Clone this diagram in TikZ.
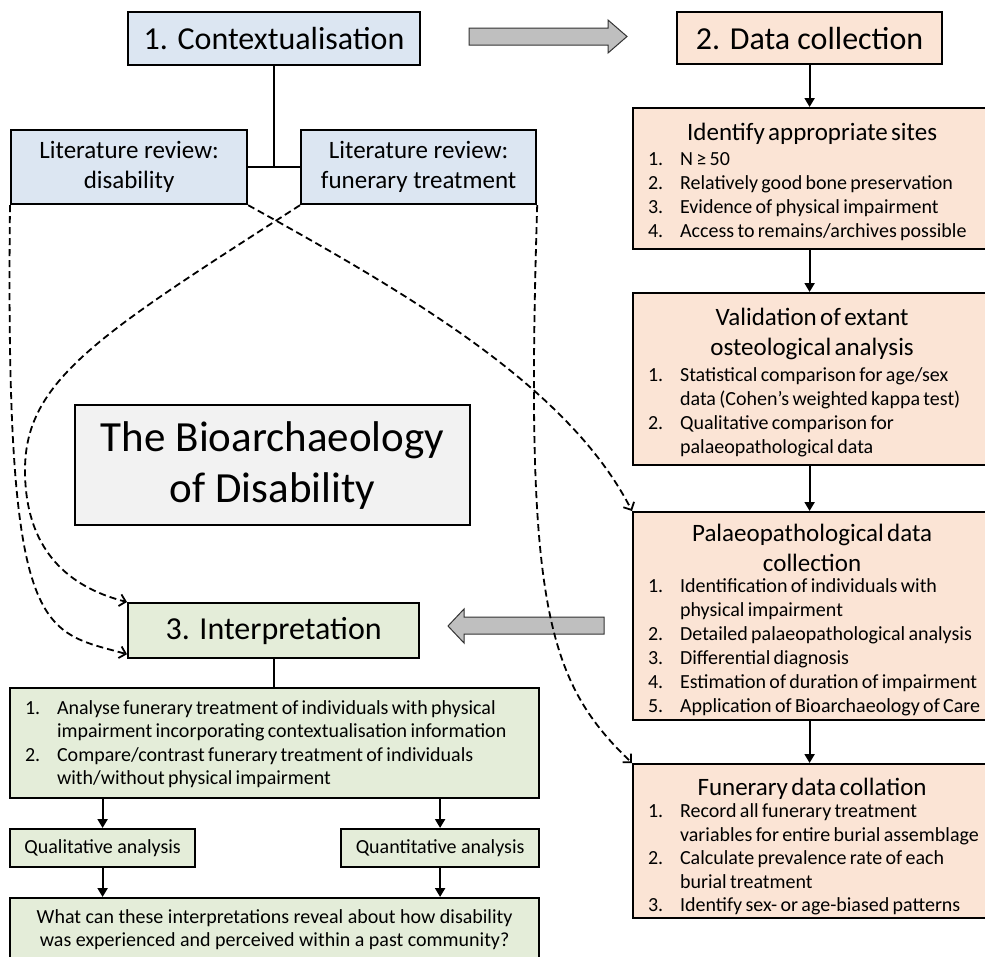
\documentclass[tikz,border=0pt]{standalone}
\usepackage{fontspec}
\setmainfont{Carlito}
\usetikzlibrary{arrows.meta,calc}
\definecolor{ctxblue}{HTML}{DCE6F2}
\definecolor{dataorange}{HTML}{FBE4D5}
\definecolor{interpgreen}{HTML}{E4EDD9}
\definecolor{titlegray}{HTML}{F2F2F2}
\definecolor{arrowgray}{HTML}{BFBFBF}
\newcommand{\boxhead}{\fontsize{25}{30}\selectfont}
\newcommand{\boxlist}{\fontsize{20}{24}\selectfont}
\newcommand{\stephead}[1]{{\centering\rightskip=15pt plus 1fil\boxhead #1\par}}
\begin{document}
\begin{tikzpicture}[x=1pt,y=-1pt,
    frame/.style={draw,line width=2.2pt,anchor=north west,inner sep=0pt},
    stagebox/.style={frame,font=\fontsize{32}{38}\selectfont},
    reviewbox/.style={frame,fill=ctxblue,minimum width=236pt,minimum height=74pt,align=center,font=\boxhead},
    stepbox/.style={frame,fill=dataorange,text width=343pt,inner xsep=15pt},
    smallbox/.style={frame,fill=interpgreen,minimum height=38pt,font=\boxlist},
    blockarrow/.style={fill=arrowgray,draw=black!80,line width=1pt},
    link/.style={line width=2pt},
    flow/.style={line width=2pt,-{Triangle[length=9pt,width=10pt]}},
    dashlink/.style={line width=1.8pt,dash pattern=on 7pt off 4pt,-{Straight Barb[length=6pt,width=12pt]}}]
    \useasboundingbox (0,0) rectangle (985,956);
    \clip (0,0) rectangle (985,956);
    \node[stagebox,fill=ctxblue,minimum width=292pt,minimum height=53pt] (ctx) at (127,11) {1. Contextualisation};
    \node[stagebox,fill=dataorange,minimum width=265pt,minimum height=52pt] (data) at (676,11) {2. Data collection};
    \node[stagebox,fill=interpgreen,minimum width=291pt,minimum height=55pt] (interp) at (127,602) {3. Interpretation};
    \node[frame,fill=titlegray,minimum width=395pt,minimum height=120pt,align=center,font=\fontsize{43}{51}\selectfont] (title) at (74,404) {The Bioarchaeology\\of Disability};
    \node[reviewbox] (litdis) at (10,129) {Literature review:\\disability};
    \node[reviewbox,minimum width=235pt] (litfun) at (300,129) {Literature review:\\funerary treatment};
    \node[stepbox,text height=32pt,text depth=109pt] (sites) at (632,107) {%
        \stephead{Identify appropriate sites}\vspace{1pt}
        {\boxlist\begin{tabular}[t]{@{}p{32pt}@{}l@{}}
        1. & N ≥ 50\\
        2. & Relatively good bone preservation\\
        3. & Evidence of physical impairment\\
        4. & Access to remains/archives possible
        \end{tabular}\par}};
    \node[stepbox,text height=32pt,text depth=140pt] (valid) at (632,292) {%
        \stephead{Validation of extant\\osteological analysis}\vspace{2pt}
        {\boxlist\begin{tabular}[t]{@{}p{32pt}@{}l@{}}
        1. & Statistical comparison for age/sex\\
           & data (Cohen’s weighted kappa test)\\
        2. & Qualitative comparison for\\
           & palaeopathological data
        \end{tabular}\par}};
    \node[stepbox,text height=29pt,text depth=179pt] (palaeo) at (632,511) {%
        \stephead{Palaeopathological data\\collection}\vspace{-3pt}
        {\boxlist\begin{tabular}[t]{@{}p{32pt}@{}l@{}}
        1. & Identification of individuals with\\
           & physical impairment\\
        2. & Detailed palaeopathological analysis\\
        3. & Differential diagnosis\\
        4. & Estimation of duration of impairment\\
        5. & Application of Bioarchaeology of Care
        \end{tabular}\par}};
    \node[stepbox,text height=31pt,text depth=123pt] (funer) at (632,763) {%
        \stephead{Funerary data collation}\vspace{-1pt}
        {\fontsize{20}{23.5}\selectfont\begin{tabular}[t]{@{}p{32pt}@{}l@{}}
        1. & Record all funerary treatment\\
           & variables for entire burial assemblage\\
        2. & Calculate prevalence rate of each\\
           & burial treatment\\
        3. & Identify sex- or age-biased patterns
        \end{tabular}\par}};
    \node[frame,fill=interpgreen,text width=499pt,inner xsep=15pt,text height=26pt,text depth=84pt] (analyse) at (9,687) {%
        {\fontsize{20}{23.5}\selectfont\begin{tabular}[t]{@{}p{32pt}@{}l@{}}
        1. & Analyse funerary treatment of individuals with physical\\
           & impairment incorporating contextualisation information\\
        2. & Compare/contrast funerary treatment of individuals\\
           & with/without physical impairment
        \end{tabular}\par}};
    \node[smallbox,minimum width=185pt] (qual) at (9,828) {Qualitative analysis};
    \node[smallbox,minimum width=198pt] (quant) at (340,828) {Quantitative analysis};
    \node[frame,fill=interpgreen,minimum width=529pt,minimum height=63pt,align=center,font=\fontsize{20}{23}\selectfont] (reveal) at (9,897) {What can these interpretations reveal about how disability\\was experienced and perceived within a past community?};
    \draw[link] (ctx.south) -- (ctx.south |- litdis.east);
    \draw[link] (litdis.east) -- (litfun.west);
    \draw[flow] (data.south) -- (data.south |- sites.north);
    \draw[flow] (sites.south -| data.south) -- (valid.north -| data.south);
    \draw[flow] (valid.south -| data.south) -- (palaeo.north -| data.south);
    \draw[flow] (palaeo.south -| data.south) -- (funer.north -| data.south);
    \draw[link] (interp.south) -- (interp.south |- analyse.north);
    \draw[flow] (analyse.south -| qual.north) -- (qual.north);
    \draw[flow] (analyse.south -| quant.north) -- (quant.north);
    \draw[flow] (qual.south) -- (qual.south |- reveal.north);
    \draw[flow] (quant.south) -- (quant.south |- reveal.north);
    \filldraw[blockarrow] (469,28) -- (608,28) -- (608,20) -- (627,36.5) -- (608,53) -- (608,45) -- (469,45) -- cycle;
    \filldraw[blockarrow] (604,617) -- (464,617) -- (464,609) -- (448,626) -- (464,643) -- (464,634) -- (604,634) -- cycle;
    \draw[dashlink] (litdis.south west) .. controls (5,640) and (40,630) .. ($(interp.south west)+(0,-5)$);
    \draw[dashlink] (litfun.south west) .. controls (100,334) and (25,380) .. (25,470) .. controls (25,560) and (80,590) .. (interp.north west);
    \draw[dashlink] (litdis.south east) .. controls (420,300) and (570,390) .. (palaeo.north west);
    \draw[dashlink] (litfun.south east) .. controls (525,600) and (545,680) .. (funer.north west);
\end{tikzpicture}
\end{document}
